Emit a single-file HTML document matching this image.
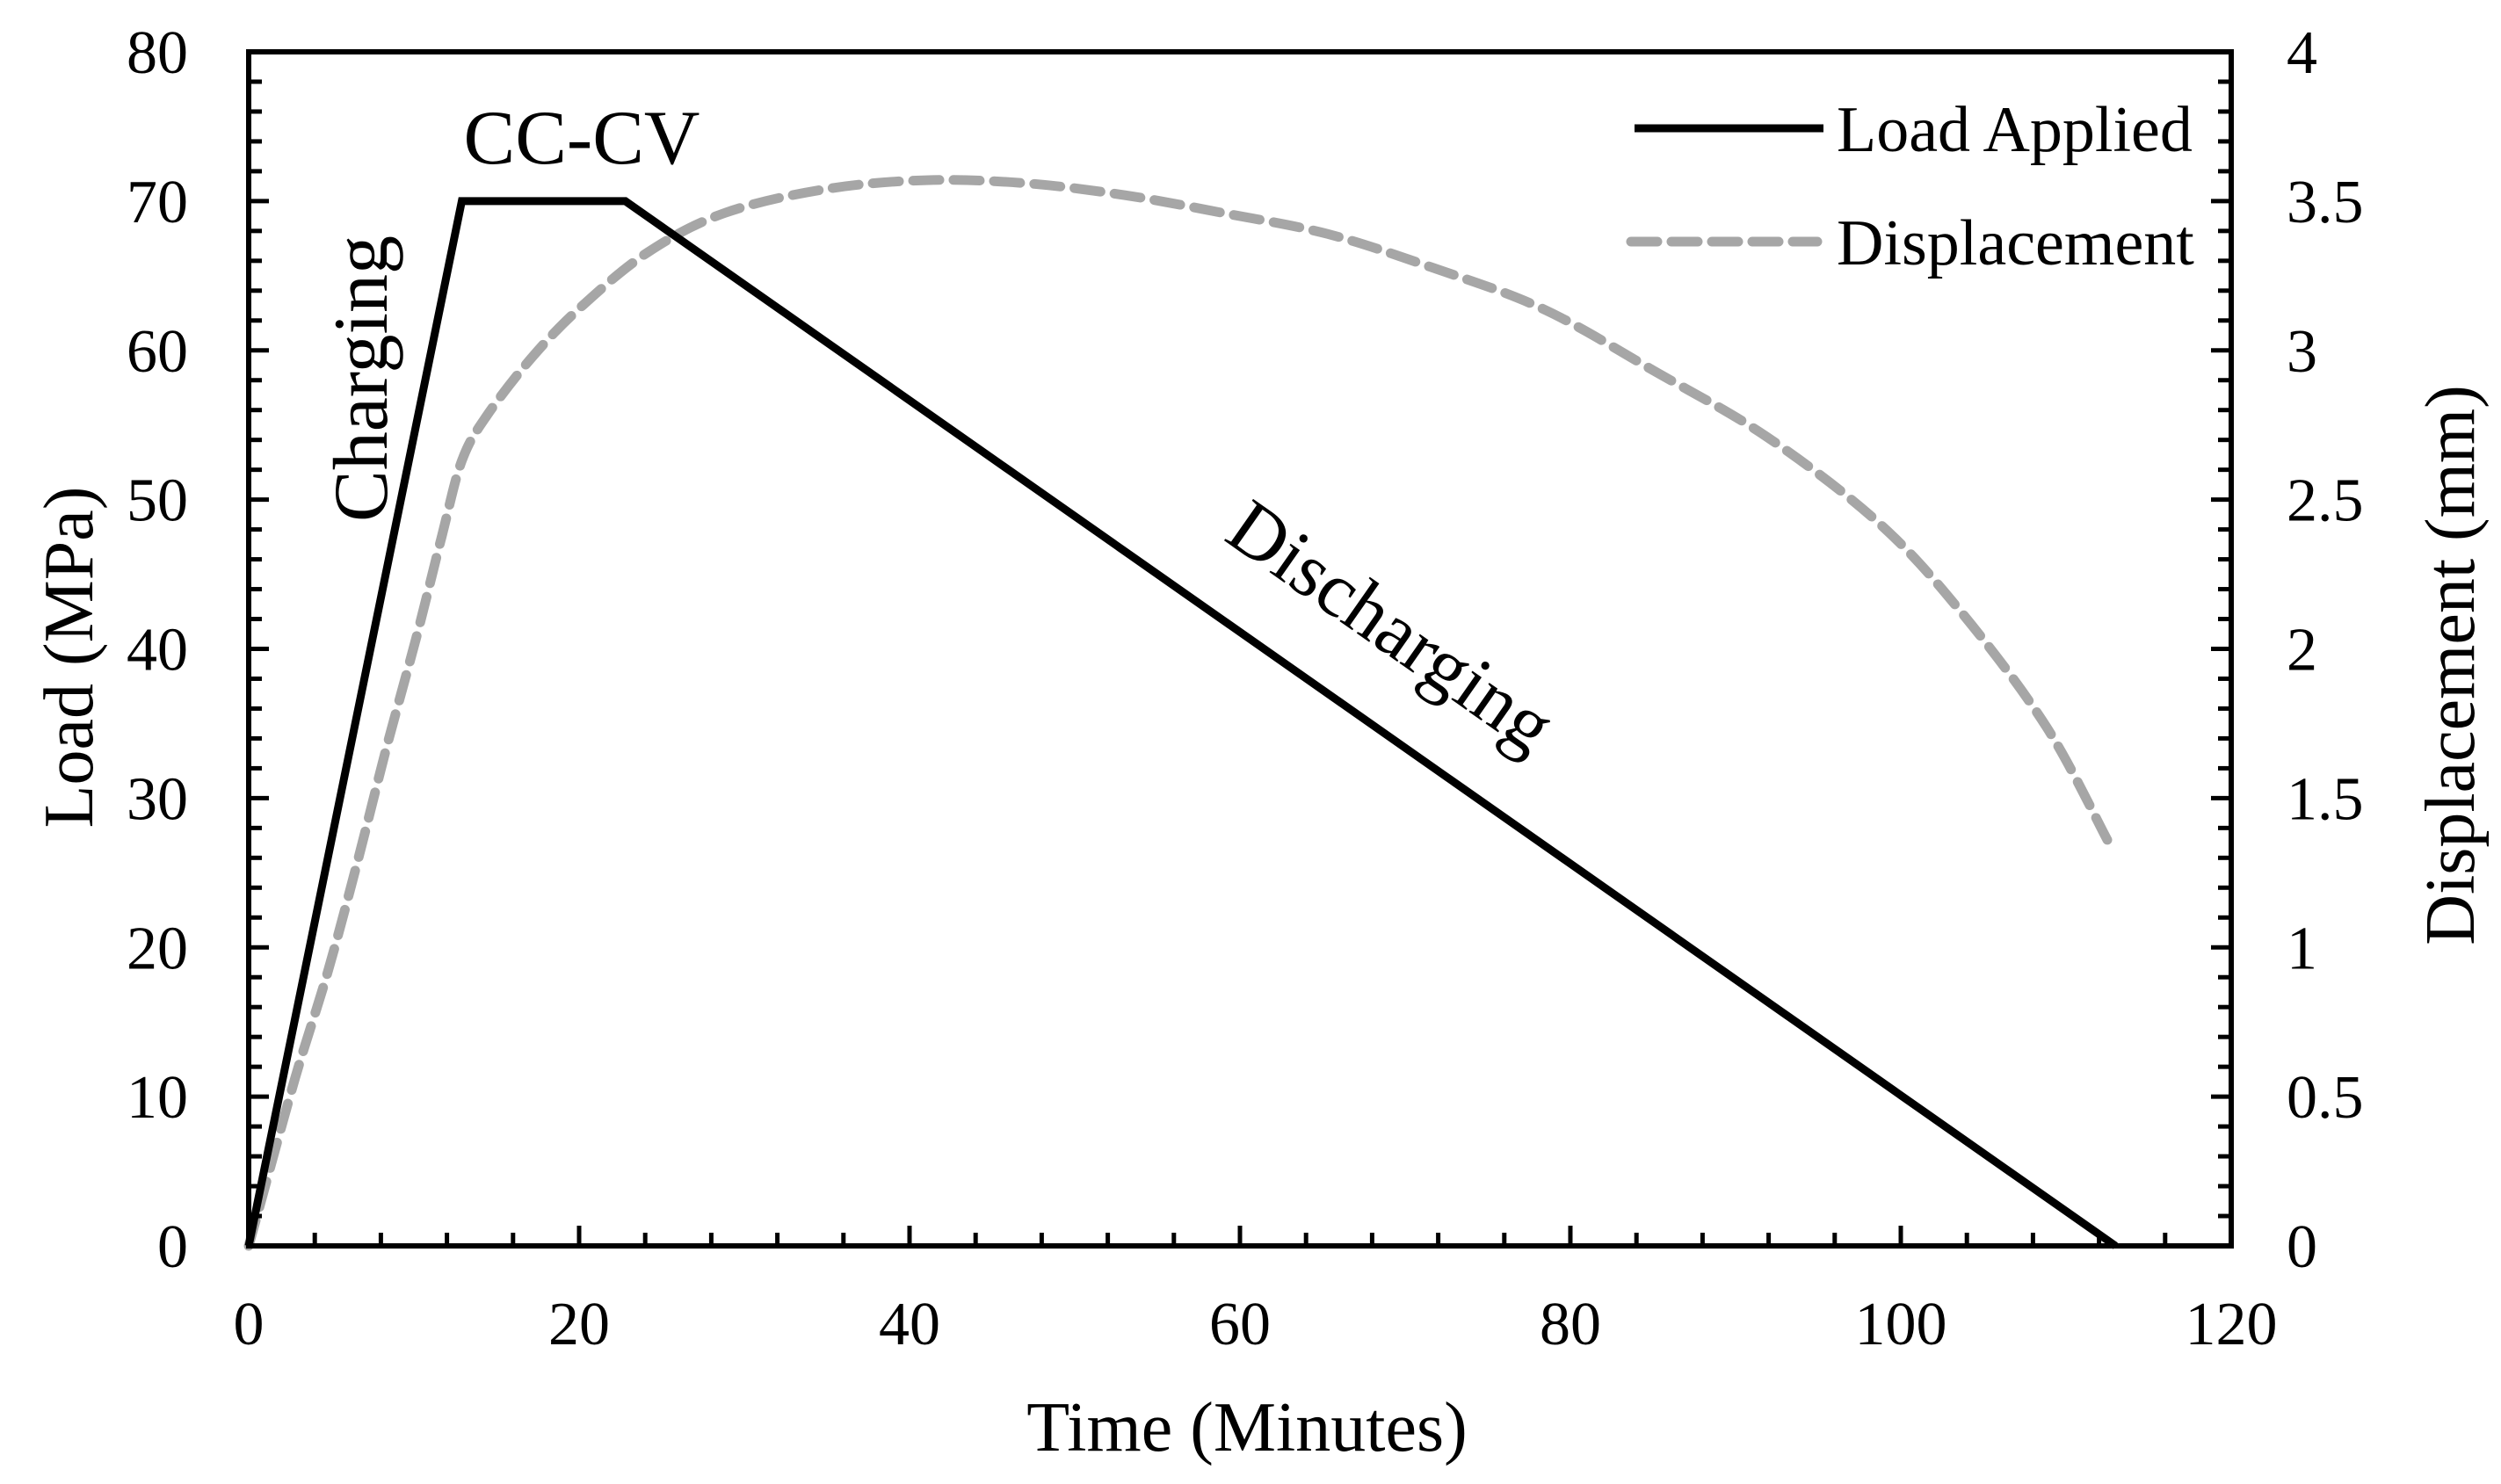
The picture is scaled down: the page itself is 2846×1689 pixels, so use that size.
<!DOCTYPE html>
<html><head><meta charset="utf-8"><style>
html,body{margin:0;padding:0;background:#fff;}
svg{display:block;font-family:"Liberation Serif",serif;}
</style></head><body>
<svg id="chart" width="2846" height="1689" viewBox="0 0 2846 1689" xmlns="http://www.w3.org/2000/svg">
<rect width="2846" height="1689" fill="#fff"/>
<g id="marks"></g>
<g id="axes"></g>
<text x="1419" y="1651" font-size="80" text-anchor="middle">Time (Minutes)</text>
<text transform="translate(105,748) rotate(-90)" font-size="80" text-anchor="middle">Load (MPa)</text>
<text transform="translate(2815,757) rotate(-90)" font-size="80" text-anchor="middle">Displacement (mm)</text>
<text x="662" y="186" font-size="88" text-anchor="middle">CC-CV</text>
<text transform="translate(440,431) rotate(-90)" font-size="88" text-anchor="middle">Charging</text>
<text transform="translate(1578,720) rotate(35)" font-size="88" text-anchor="middle" dominant-baseline="middle">Discharging</text>
<g>
<line x1="1860" y1="146" x2="2075" y2="146" stroke="#000" stroke-width="9"/>
<text x="2090" y="172" font-size="74">Load Applied</text>
<line x1="1856" y1="275" x2="2068" y2="275" stroke="#a6a6a6" stroke-width="11" stroke-dasharray="30,16" stroke-linecap="round"/>
<text x="2090" y="301" font-size="74">Displacement</text>
</g>
</svg>
<script>
const loadTime = [0, 12.9, 22.8, 113];
const loadValues = [0, 70, 70, 0];
const dispTime = [0, 0.5, 2.8, 4.8, 6.6, 8.3, 10.2, 11.7, 12.9, 14.4, 17.2, 20.2, 24.2, 28.8, 34.9, 41, 47, 53, 59, 65.3, 71.5, 78.3, 85.1, 91.9, 98.7, 103.7, 108.8, 112.5];
const dispValues = [0, 0.1, 0.56, 0.92, 1.29, 1.66, 2.05, 2.38, 2.63, 2.78, 2.98, 3.15, 3.33, 3.46, 3.54, 3.57, 3.56, 3.52, 3.46, 3.39, 3.28, 3.14, 2.93, 2.71, 2.42, 2.12, 1.74, 1.36];
const xTicks = [0, 20, 40, 60, 80, 100, 120];
const yLeftTicks = [0, 10, 20, 30, 40, 50, 60, 70, 80];
const yRightTicks = ["0", "0.5", "1", "1.5", "2", "2.5", "3", "3.5", "4"];

const L = 283, R = 2539, T = 59, B = 1418;
const xs = t => L + (t / 120) * (R - L);
const yl = v => B - (v / 80) * (B - T);
const yr = v => B - (v / 4) * (B - T);
const NS = "http://www.w3.org/2000/svg";
const marks = document.getElementById('marks');
const axes = document.getElementById('axes');
function mk(tag, attrs, parent) {
  const e = document.createElementNS(NS, tag);
  for (const k in attrs) e.setAttribute(k, attrs[k]);
  parent.appendChild(e);
  return e;
}

// displacement series (smoothed Catmull-Rom)
const pts = dispTime.map((t, i) => [xs(t), yr(dispValues[i])]);
let d = 'M' + pts[0][0].toFixed(1) + ' ' + pts[0][1].toFixed(1);
for (let i = 0; i < pts.length - 1; i++) {
  const p0 = pts[Math.max(0, i - 1)], p1 = pts[i], p2 = pts[i + 1], p3 = pts[Math.min(pts.length - 1, i + 2)];
  const c1x = p1[0] + (p2[0] - p0[0]) / 6, c1y = p1[1] + (p2[1] - p0[1]) / 6;
  const c2x = p2[0] - (p3[0] - p1[0]) / 6, c2y = p2[1] - (p3[1] - p1[1]) / 6;
  d += ' C' + c1x.toFixed(1) + ' ' + c1y.toFixed(1) + ' ' + c2x.toFixed(1) + ' ' + c2y.toFixed(1) + ' ' + p2[0].toFixed(1) + ' ' + p2[1].toFixed(1);
}
const dp = mk('path', {d: d, fill: 'none', stroke: '#a6a6a6', 'stroke-width': 11, 'stroke-dasharray': '30,16', 'stroke-linecap': 'round'}, marks);



// load series
let d2 = loadTime.map((t, i) => (i ? 'L' : 'M') + xs(t).toFixed(1) + ' ' + yl(loadValues[i]).toFixed(1)).join(' ');
const lp = mk('path', {d: d2, fill: 'none', stroke: '#000', 'stroke-width': 9, 'stroke-linejoin': 'miter'}, marks);



// frame
const fr = mk('rect', {x: L, y: T, width: R - L, height: B - T, fill: 'none', stroke: '#000', 'stroke-width': 6}, axes);



// ticks
for (let v = 0; v <= 80; v += 2) {
  const major = v % 10 === 0;
  const tk = mk('line', {x1: L, x2: L + (major ? 23 : 15), y1: yl(v), y2: yl(v), stroke: '#000', 'stroke-width': 5}, axes);
  
  
}
for (let i = 0; i <= 40; i++) {
  const v = i / 10;
  const major = i % 5 === 0;
  const tk = mk('line', {x1: R, x2: R - (major ? 23 : 15), y1: yr(v), y2: yr(v), stroke: '#000', 'stroke-width': 5}, axes);
  
  
}
for (let t = 0; t <= 120; t += 4) {
  const major = t % 20 === 0;
  const tk = mk('line', {x1: xs(t), x2: xs(t), y1: B, y2: B - (major ? 23 : 15), stroke: '#000', 'stroke-width': 5}, axes);
  
  
}
// tick labels
xTicks.forEach(t => {
  const e = mk('text', {x: xs(t), y: 1530, 'font-size': 70, 'text-anchor': 'middle'}, axes);
  e.textContent = t;
  
  
});
yLeftTicks.forEach(v => {
  const e = mk('text', {x: 214, y: yl(v) + 24, 'font-size': 70, 'text-anchor': 'end'}, axes);
  e.textContent = v;
  
  
});
yRightTicks.forEach(s => {
  const e = mk('text', {x: 2602, y: yr(parseFloat(s)) + 24, 'font-size': 70}, axes);
  e.textContent = s;
  
  
});
</script>
</body></html>
